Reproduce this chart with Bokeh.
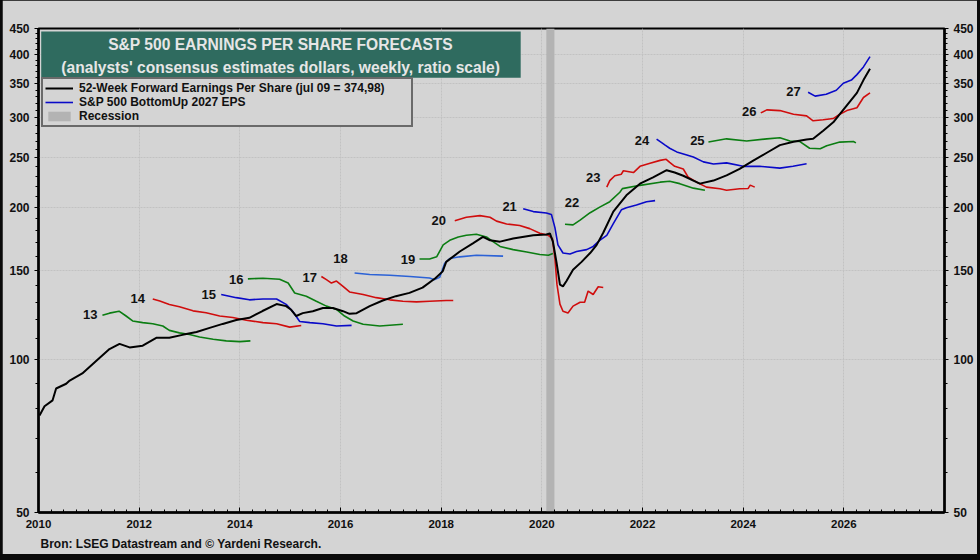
from bokeh.plotting import figure
from bokeh.layouts import column
from bokeh.models import (Range1d, FixedTicker, LogAxis, BasicTickFormatter, Legend,
                          LegendItem, Label, Title, BoxAnnotation)
from bokeh.core.properties import value
from bokeh.embed import file_html
from bokeh.resources import INLINE

# ---------------- data ----------------
fwd_year = [2010.02, 2010.12, 2010.28, 2010.35, 2010.55, 2010.62, 2010.87, 2011.15, 2011.41, 2011.61,
            2011.81, 2012.07, 2012.34, 2012.6, 2012.86, 2013.14, 2013.4, 2013.66, 2013.93, 2014.19,
            2014.45, 2014.73, 2014.92, 2015.02, 2015.12, 2015.25, 2015.45, 2015.65, 2015.85, 2016.05,
            2016.18, 2016.32, 2016.58, 2016.84, 2017.1, 2017.37, 2017.63, 2017.89, 2018.03, 2018.1,
            2018.37, 2018.63, 2018.83, 2018.97, 2019.17, 2019.43, 2019.83, 2020.09, 2020.16, 2020.22,
            2020.29, 2020.36, 2020.42, 2020.49, 2020.62, 2020.79, 2020.96, 2021.09, 2021.22, 2021.42,
            2021.68, 2021.95, 2022.21, 2022.48, 2022.64, 2022.81, 2023.01, 2023.14, 2023.41, 2023.67,
            2023.93, 2024.2, 2024.47, 2024.73, 2025.0, 2025.26, 2025.39, 2025.59, 2025.79, 2025.92,
            2026.12, 2026.26, 2026.39, 2026.52]
fwd_eps = [77.7, 81.0, 83.2, 87.8, 89.7, 91.0, 94.0, 99.6, 105.0, 107.5,
           105.8, 106.6, 110.5, 110.5, 112.0, 113.5, 115.6, 117.7, 119.8, 121.0,
           124.8, 128.8, 127.6, 125.5, 122.0, 123.6, 124.7, 126.5, 126.5, 124.7,
           123.2, 123.6, 127.6, 130.9, 133.5, 135.5, 138.8, 145.0, 149.4, 156.0,
           163.5, 169.7, 174.7, 172.0, 171.0, 173.4, 176.0, 176.7, 177.5, 171.0,
           156.0, 140.7, 139.6, 143.0, 150.5, 156.0, 162.4, 168.5, 178.0, 196.0,
           211.0, 222.5, 229.0, 236.5, 234.0, 230.6, 225.6, 222.5, 225.6, 231.0,
           238.0, 247.0, 256.0, 265.0, 269.0, 272.0, 272.7, 283.0, 294.0, 305.0,
           323.0, 336.0, 356.0, 375.0]

yr13 = [2011.27, 2011.41, 2011.6, 2011.74, 2011.87, 2012.07, 2012.27, 2012.47, 2012.6, 2012.8,
        2013.0, 2013.2, 2013.47, 2013.73, 2014.0, 2014.21]
eps13 = [122.4, 123.6, 124.7, 122.0, 119.3, 118.4, 117.8, 116.6, 114.3, 113.0,
         112.2, 110.9, 109.8, 109.0, 108.6, 109.0]

yr14 = [2012.27, 2012.41, 2012.6, 2012.8, 2013.07, 2013.33, 2013.6, 2013.86, 2014.13, 2014.46,
        2014.73, 2014.99, 2015.22]
eps14 = [131.8, 130.6, 128.6, 127.2, 124.9, 123.8, 122.0, 121.2, 119.7, 118.4,
         117.8, 116.0, 116.9]

yr15 = [2013.63, 2013.93, 2014.19, 2014.46, 2014.73, 2014.92, 2015.06, 2015.19, 2015.39, 2015.65,
        2015.92, 2016.22]
eps15 = [134.5, 132.6, 131.3, 131.8, 131.8, 128.6, 124.2, 119.0, 118.4, 117.8,
         116.6, 116.9]

yr16 = [2014.16, 2014.46, 2014.79, 2014.96, 2015.09, 2015.32, 2015.52, 2015.72, 2015.92, 2016.08,
        2016.25, 2016.45, 2016.78, 2017.24]
eps16 = [144.4, 144.8, 144.2, 141.7, 135.4, 133.5, 130.5, 127.6, 125.7, 122.0,
         119.3, 117.5, 116.6, 117.5]

yr17 = [2015.62, 2015.72, 2015.82, 2015.92, 2016.05, 2016.18, 2016.45, 2016.71, 2016.98, 2017.24,
        2017.51, 2017.77, 2018.1, 2018.24]
eps17 = [146.0, 143.9, 141.7, 143.0, 139.6, 136.1, 134.5, 132.6, 131.3, 130.5,
         130.1, 130.5, 130.9, 130.9]

yr18 = [2016.28, 2016.58, 2016.98, 2017.38, 2017.77, 2017.87, 2017.97, 2018.07, 2018.17, 2018.37,
        2018.7, 2019.23]
eps18 = [148.3, 147.3, 146.8, 146.0, 145.0, 143.9, 145.4, 155.0, 158.4, 159.6,
         160.8, 160.1]

yr19 = [2017.57, 2017.77, 2017.91, 2018.04, 2018.17, 2018.34, 2018.5, 2018.7, 2018.9, 2019.03,
        2019.17, 2019.43, 2019.7, 2019.96, 2020.13, 2020.22]
eps19 = [158.0, 158.0, 159.6, 168.5, 172.0, 174.7, 176.0, 176.8, 174.7, 171.0,
         167.3, 164.9, 163.2, 161.3, 160.8, 162.0]

yr20 = [2018.27, 2018.5, 2018.77, 2018.97, 2019.1, 2019.3, 2019.56, 2019.76, 2019.96, 2020.13,
        2020.21, 2020.26, 2020.3, 2020.36, 2020.42, 2020.52, 2020.62, 2020.76, 2020.85, 2020.92,
        2021.02, 2021.12, 2021.22]
eps20 = [188.0, 191.0, 192.4, 191.0, 187.7, 185.3, 184.0, 181.4, 177.6, 176.0,
         173.4, 158.4, 141.0, 128.8, 124.7, 123.7, 127.6, 129.9, 129.9, 136.6,
         134.5, 139.3, 138.9]

yr21 = [2019.63, 2019.83, 2020.09, 2020.19, 2020.26, 2020.32, 2020.42, 2020.56, 2020.69, 2020.89,
        2021.02, 2021.15, 2021.29, 2021.42, 2021.58, 2021.68, 2021.88, 2022.08, 2022.25]
eps21 = [198.6, 196.0, 194.8, 193.5, 182.2, 168.5, 162.4, 161.7, 163.5, 164.9,
         167.3, 172.0, 176.0, 185.5, 197.6, 199.5, 201.9, 205.0, 206.0]

yr22 = [2020.46, 2020.62, 2020.76, 2020.96, 2021.15, 2021.35, 2021.55, 2021.6, 2021.95, 2022.35,
        2022.54, 2022.74, 2023.01, 2023.24]
eps22 = [185.0, 184.5, 188.5, 195.0, 200.0, 205.0, 214.0, 217.5, 220.8, 224.0,
         225.0, 222.5, 218.0, 216.0]

yr23 = [2021.29, 2021.35, 2021.45, 2021.58, 2021.62, 2021.82, 2021.95, 2022.15, 2022.35, 2022.47,
        2022.54, 2022.64, 2022.81, 2022.91, 2023.08, 2023.27, 2023.54, 2023.67, 2023.93, 2024.1,
        2024.14, 2024.23]
eps23 = [219.0, 225.6, 230.6, 232.3, 235.9, 234.0, 240.7, 244.0, 247.3, 248.5,
         245.0, 240.7, 237.8, 229.0, 224.0, 219.0, 217.4, 216.0, 217.4, 217.7,
         221.0, 219.0]

yr24 = [2022.28, 2022.38, 2022.45, 2022.54, 2022.68, 2022.88, 2023.01, 2023.21, 2023.41, 2023.67,
        2024.0, 2024.33, 2024.73, 2024.99, 2025.26]
eps24 = [272.3, 268.0, 265.0, 261.3, 257.0, 253.5, 251.0, 245.6, 243.2, 244.5,
         240.7, 240.7, 238.7, 240.7, 243.5]

yr25 = [2023.31, 2023.67, 2024.07, 2024.47, 2024.73, 2024.93, 2025.12, 2025.32, 2025.53, 2025.66,
        2025.92, 2026.19, 2026.24]
eps25 = [268.8, 272.7, 270.0, 272.7, 274.0, 270.0, 269.5, 261.3, 260.7, 264.3,
         268.7, 269.5, 267.8]

yr26 = [2024.35, 2024.47, 2024.73, 2025.0, 2025.26, 2025.39, 2025.59, 2025.79, 2025.92, 2026.06,
        2026.26, 2026.39, 2026.52]
eps26 = [306.8, 311.0, 310.0, 305.0, 302.6, 296.0, 297.3, 299.0, 305.0, 310.0,
         314.0, 329.0, 336.0]

yr27 = [2025.29, 2025.43, 2025.65, 2025.85, 2025.99, 2026.15, 2026.26, 2026.39, 2026.52]
eps27 = [337.0, 331.0, 334.0, 340.0, 351.0, 356.0, 365.0, 378.0, 396.0]

est_labels = ["13", "14", "15", "16", "17", "18", "19", "20", "21", "22", "23", "24", "25", "26", "27"]
label_year = [2011.03, 2011.97, 2013.38, 2013.93, 2015.39, 2016.0, 2017.34, 2017.95, 2019.36,
              2020.6, 2021.02, 2021.99, 2023.09, 2024.12, 2025.0]
label_eps = [122.6, 131.8, 134.5, 144.0, 145.5, 158.7, 158.0, 188.0, 200.5,
             204.0, 229.0, 271.0, 270.5, 309.0, 338.0]

rec_start = 2020.09
rec_end = 2020.25

x_ticks = [2010, 2012, 2014, 2016, 2018, 2020, 2022, 2024, 2026]
y_ticks = [50, 100, 150, 200, 250, 300, 350, 400, 450]

# ---------------- styling ----------------
BG = "#d4d4d4"
GREEN = "#0b7d12"
RED = "#d00d0d"
BLUE = "#0a0ac8"
LBLUE = "#2c62d6"
TEAL = "#2f6b5f"
FONT = "Liberation Sans"

p = figure(width=975, height=554, x_range=Range1d(2010, 2028), y_range=Range1d(50, 450),
           y_axis_type="log", output_backend="svg", toolbar_location=None,
           min_border_left=36, min_border_right=33, min_border_top=28, min_border_bottom=41,
           background_fill_color=BG, border_fill_color=BG)
p.outline_line_color = "#000000"
p.outline_line_width = 2

x_minor = [2010 + q * 0.25 for q in range(0, 73)]
y_minor = list(range(50, 451, 10))
xt = FixedTicker(ticks=x_ticks, minor_ticks=x_minor)
yt = FixedTicker(ticks=y_ticks, minor_ticks=y_minor)

p.xaxis.ticker = xt
p.xgrid.ticker = xt
p.yaxis.ticker = yt
p.ygrid.ticker = yt
p.yaxis.formatter = BasicTickFormatter(use_scientific=False)
p.xaxis.formatter = BasicTickFormatter(use_scientific=False)

for g in (p.xgrid, p.ygrid):
    g.grid_line_color = "#c2c2c2"
    g.grid_line_width = 1
    g.grid_line_dash = "2 1"

right_axis = LogAxis(ticker=yt, formatter=BasicTickFormatter(use_scientific=False))
p.add_layout(right_axis, "right")

for ax in list(p.yaxis):
    ax.axis_line_color = "#000000"
    ax.axis_line_width = 2.5
    ax.major_tick_in = 0
    ax.major_tick_out = 4
    ax.minor_tick_in = 0
    ax.minor_tick_out = 3
    ax.major_tick_line_color = "#000000"
    ax.minor_tick_line_color = "#000000"
    ax.major_label_text_font = FONT
    ax.major_label_text_font_style = "bold"
    ax.major_label_text_font_size = "12px"
    ax.major_label_text_color = "#111111"
    ax.major_label_standoff = 5
right_axis.major_label_standoff = 5

xa = p.xaxis[0]
xa.axis_line_color = "#000000"
xa.axis_line_width = 2.5
xa.major_tick_in = 5
xa.major_tick_out = 0
xa.minor_tick_in = 3
xa.minor_tick_out = 0
xa.major_tick_line_color = "#000000"
xa.minor_tick_line_color = "#000000"
xa.major_label_text_font = FONT
xa.major_label_text_font_style = "bold"
xa.major_label_text_font_size = "11.5px"
xa.major_label_text_color = "#111111"
xa.major_label_standoff = 7

# recession band
r_rec = p.quad(left=[rec_start], right=[rec_end], bottom=[50], top=[450],
               fill_color="#b3b3b3", line_color=None)

series = [(yr13, eps13, GREEN), (yr14, eps14, RED), (yr15, eps15, BLUE),
          (yr16, eps16, GREEN), (yr17, eps17, RED), (yr18, eps18, LBLUE),
          (yr19, eps19, GREEN), (yr20, eps20, RED), (yr21, eps21, BLUE),
          (yr22, eps22, GREEN), (yr23, eps23, RED), (yr24, eps24, BLUE),
          (yr25, eps25, GREEN), (yr26, eps26, RED), (yr27, eps27, BLUE)]
rends = []
for xs, ys, c in series:
    rends.append(p.line(xs, ys, line_color=c, line_width=1.6))

r_fwd = p.line(fwd_year, fwd_eps, line_color="#000000", line_width=2)

p.text(x=label_year, y=label_eps, text=est_labels, text_font=value(FONT),
       text_font_style="bold", text_font_size="13px", text_align="center",
       text_baseline="middle", text_color="#111111")

# title box
p.add_layout(BoxAnnotation(left=2010.054, right=2019.58, bottom=360.0, top=443.9,
                           fill_color=TEAL, fill_alpha=1.0, line_color=None))
p.add_layout(Label(x=2014.81, y=418.6, text="S&P 500 EARNINGS PER SHARE FORECASTS",
                   text_align="center", text_baseline="middle", text_font=FONT,
                   text_font_style="bold", text_font_size="15.6px", text_color="#e6e6e6"))
p.add_layout(Label(x=2014.81, y=377.6,
                   text="(analysts' consensus estimates dollars, weekly, ratio scale)",
                   text_align="center", text_baseline="middle", text_font=FONT,
                   text_font_style="bold", text_font_size="15.6px", text_color="#e6e6e6"))

legend = Legend(items=[
    LegendItem(label="52-Week Forward Earnings Per Share (jul 09 = 374,98)", renderers=[r_fwd]),
    LegendItem(label="S&P 500 BottomUp 2027 EPS", renderers=[rends[-1]]),
    LegendItem(label="Recession", renderers=[r_rec]),
], location=(3, 385))
legend.label_text_font = FONT
legend.label_text_font_style = "bold"
legend.label_text_font_size = "12px"
legend.label_text_line_height = 1.0
legend.label_text_color = "#111111"
legend.label_height = 13
legend.glyph_height = 12
legend.glyph_width = 28
legend.label_standoff = 6
legend.label_width = 330
legend.spacing = 0
legend.padding = 2
legend.margin = 0
legend.border_line_color = "#000000"
legend.border_line_width = 2
legend.background_fill_color = BG
legend.background_fill_alpha = 1.0
p.add_layout(legend, "center")

src = Title(text="Bron: LSEG Datastream and \u00a9 Yardeni Research.", align="left",
            text_font=FONT, text_font_size="12px", text_font_style="bold",
            text_color="#111111", offset=2, standoff=8)
p.add_layout(src, "below")

page = column(p, styles={"background-color": "#0a0a0a", "padding": "0px 3px 6px 2px"})

open("out.html", "w").write(file_html(page, INLINE))
